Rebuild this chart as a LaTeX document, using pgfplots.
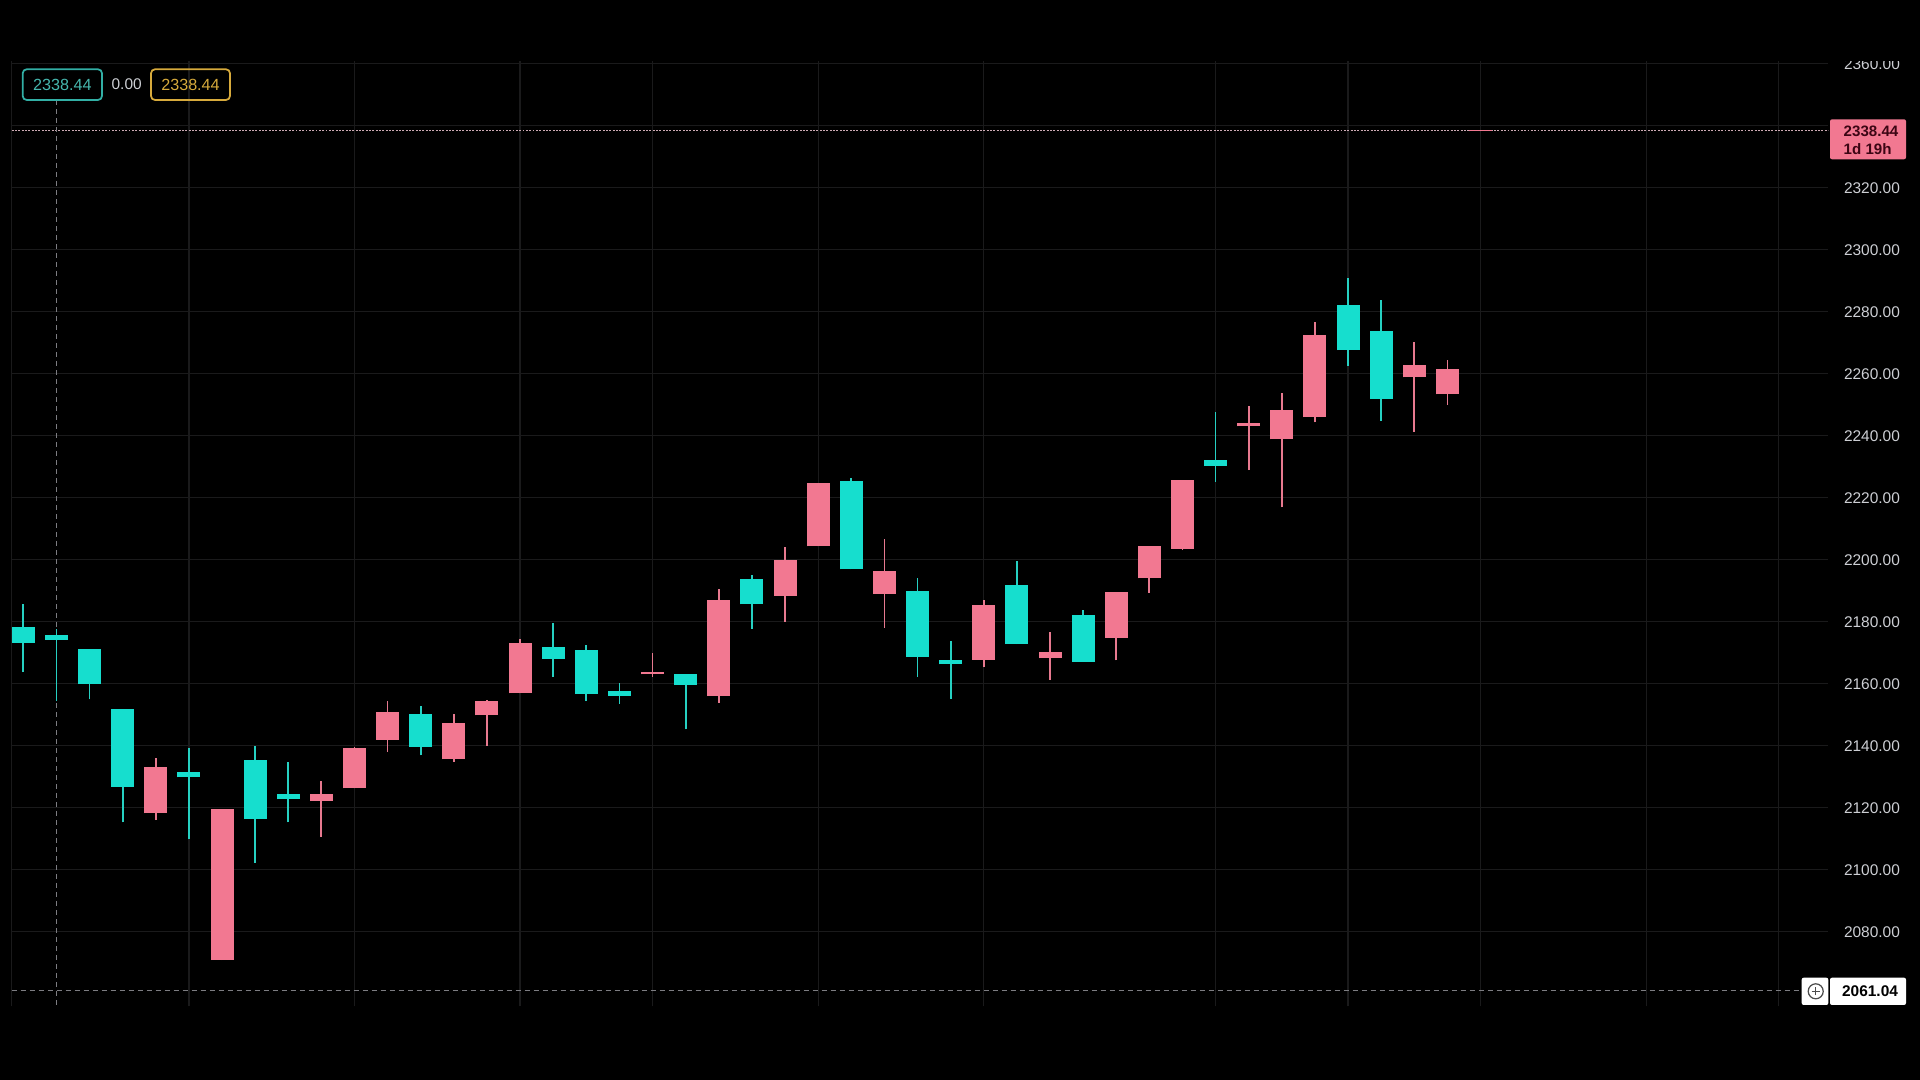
\documentclass[border=0pt]{standalone}
\usepackage{pgfplots}
\pgfplotsset{compat=1.18}
\usepackage{pgfplotstable}
\usepackage{fontspec}
\setmainfont{Liberation Sans}
\definecolor{tealc}{RGB}{22,222,206}
\definecolor{pinkc}{RGB}{242,120,145}
\definecolor{gridc}{RGB}{26,26,27}
\definecolor{labc}{RGB}{205,207,212}
\definecolor{tealbox}{RGB}{50,175,165}
\definecolor{goldc}{RGB}{215,170,60}
\definecolor{crossc}{RGB}{125,125,130}
\definecolor{tagtext}{RGB}{60,5,20}
\definecolor{dotc}{RGB}{205,170,180}

% up candles (teal): o = body bottom, c = body top
\pgfplotstableread{
i  o      h      l      c
0  2173.2 2185.6 2163.7 2178.4
1  2174.2 2177.5 2154.5 2175.6
2  2159.9 2171.3 2154.9 2171.3
3  2126.7 2151.7 2115.3 2151.7
5  2129.8 2139.4 2109.8 2131.6
7  2116.3 2139.8 2102.3 2135.5
8  2122.7 2134.7 2115.3 2124.4
12 2139.5 2152.7 2136.9 2150.1
16 2168.1 2179.7 2162.3 2171.8
17 2156.6 2172.6 2154.4 2170.9
18 2156.0 2160.1 2153.5 2157.7
20 2159.5 2163.0 2145.3 2163.0
22 2185.6 2195.0 2177.7 2193.8
25 2196.9 2226.5 2196.9 2225.4
27 2168.6 2194.2 2162.3 2190.0
28 2166.2 2173.8 2155.0 2167.8
30 2172.8 2199.7 2172.8 2191.7
32 2167.0 2183.8 2167.0 2182.2
36 2230.2 2247.5 2225.2 2232.2
40 2267.6 2290.8 2262.6 2282.1
41 2251.8 2283.7 2244.7 2273.7
}\tealdata

% down candles (pink): o = body top, c = body bottom
\pgfplotstableread{
i  o      h      l      c
4  2133.0 2135.9 2116.0 2118.2
6  2119.5 2119.5 2070.8 2070.8
9  2124.4 2128.6 2110.6 2122.1
10 2139.4 2139.7 2126.2 2126.2
11 2151.0 2154.3 2138.1 2141.9
13 2147.2 2150.1 2134.8 2135.6
14 2154.3 2154.7 2139.9 2149.8
15 2173.0 2174.3 2156.9 2156.9
19 2163.8 2169.8 2162.3 2163.0
21 2187.1 2190.4 2153.9 2156.0
23 2200.0 2204.1 2180.0 2188.4
24 2224.9 2224.9 2204.3 2204.3
26 2196.3 2206.6 2178.1 2188.9
29 2185.4 2187.0 2165.3 2167.8
31 2170.1 2176.8 2161.2 2168.2
33 2189.7 2189.7 2167.5 2174.8
34 2204.5 2204.5 2189.3 2194.0
35 2225.8 2225.8 2203.1 2203.6
37 2244.0 2249.7 2228.9 2243.0
38 2248.3 2253.7 2216.9 2238.8
39 2272.5 2276.7 2244.3 2246.0
42 2262.9 2270.3 2241.3 2258.8
43 2261.6 2264.5 2250.0 2253.3
44 2338.7 2338.7 2338.2 2338.2
}\pinkdata

\pgfplotsset{candle/.style={only marks, mark=*, mark size=0pt,
  mark options={draw opacity=0, fill opacity=0},
  error bars/.cd, y dir=plus, y explicit, error mark=none}}

\begin{document}
\begin{tikzpicture}
\fill[black] (0,0) rectangle (19.2,10.8);
\useasboundingbox (0,0) rectangle (19.2,10.8);
\begin{axis}[
  at={(0.117cm,0.736cm)}, anchor=south west,
  scale only axis, width=18.166cm, height=9.464cm,
  xmin=-0.35, xmax=54.5, ymin=2055.9, ymax=2361.2,
  axis line style={draw=none},
  major tick length=0pt,
  xtick={-0.35,5,10,15,19,24,29,36,40,44,49,53},
  xticklabels={},
  ytick={2080,2100,...,2360},
  yticklabel pos=right,
  scaled y ticks=false,
  grid=major,
  grid style={gridc, line width=0.35pt},
  yticklabel style={font=\fontsize{4.4}{5}\selectfont, text=labc, anchor=west, inner sep=0pt, xshift=0.15cm,
    /pgf/number format/fixed, /pgf/number format/fixed zerofill,
    /pgf/number format/precision=2, /pgf/number format/1000 sep={},
    /pgf/number format/assume math mode=true},
]
% price line
\draw[dotc, line width=0.4pt, dash pattern=on 0.55pt off 0.4pt] (axis cs:-0.35,2338.44) -- (axis cs:54.5,2338.44);
% crosshair
\draw[crossc, line width=0.4pt, dash pattern=on 0.05cm off 0.04cm] (axis cs:1,2348.3) -- (axis cs:1,2055.9);
\draw[crossc, line width=0.4pt, dash pattern=on 0.05cm off 0.04cm] (axis cs:-0.35,2061.04) -- (axis cs:53.67,2061.04);
% wicks
\addplot[tealc, candle, error bar style={line width=0.5pt, draw=tealc!85!gray}]
  table[x=i, y=l, y error expr=\thisrow{h}-\thisrow{l}] {\tealdata};
\addplot[pinkc, candle, error bar style={line width=0.5pt, draw=pinkc!90!gray}]
  table[x=i, y=l, y error expr=\thisrow{h}-\thisrow{l}] {\pinkdata};
% bodies
\addplot[tealc, candle, error bar style={line width=0.23cm, draw=tealc}]
  table[x=i, y expr={min(\thisrow{o},\thisrow{c})}, y error expr={abs(\thisrow{c}-\thisrow{o})}] {\tealdata};
\addplot[pinkc, candle, error bar style={line width=0.23cm, draw=pinkc}]
  table[x=i, y expr={min(\thisrow{o},\thisrow{c})}, y error expr={abs(\thisrow{c}-\thisrow{o})}] {\pinkdata};
\end{axis}
% header cover
\fill[black] (0,10.185) rectangle (19.2,10.8);
% top-left legend boxes
\draw[tealbox, line width=0.5pt, rounded corners=0.04cm] (0.227,9.80) rectangle (1.02,10.107);
\node[text=tealbox!90!white, font=\fontsize{4.6}{5}\selectfont, inner sep=0pt] at (0.624,9.954) {2338.44};
\node[text=labc, font=\fontsize{4.4}{5}\selectfont, inner sep=0pt] at (1.267,9.957) {0.00};
\draw[goldc, line width=0.5pt, rounded corners=0.04cm] (1.51,9.80) rectangle (2.30,10.107);
\node[text=goldc, font=\fontsize{4.6}{5}\selectfont, inner sep=0pt] at (1.905,9.954) {2338.44};
% price tag
\fill[pinkc, rounded corners=0.02cm] (18.30,9.207) rectangle (19.06,9.607);
\node[anchor=west, text=tagtext, font=\bfseries\fontsize{4.3}{5}\selectfont, inner sep=0pt] at (18.43,9.49) {2338.44};
\node[anchor=west, text=tagtext, font=\bfseries\fontsize{4.3}{5}\selectfont, inner sep=0pt] at (18.43,9.313) {1d 19h};
% bottom crosshair label
\fill[white, rounded corners=0.02cm] (18.017,0.75) rectangle (18.283,1.023);
\draw[black!70, line width=0.35pt] (18.157,0.887) circle (0.075);
\draw[black!70, line width=0.35pt] (18.117,0.887) -- (18.197,0.887) (18.157,0.847) -- (18.157,0.927);
\fill[white, rounded corners=0.02cm] (18.30,0.75) rectangle (19.06,1.023);
\node[text=black, font=\bfseries\fontsize{4.4}{5}\selectfont, inner sep=0pt] at (18.70,0.885) {2061.04};
\end{tikzpicture}
\end{document}
